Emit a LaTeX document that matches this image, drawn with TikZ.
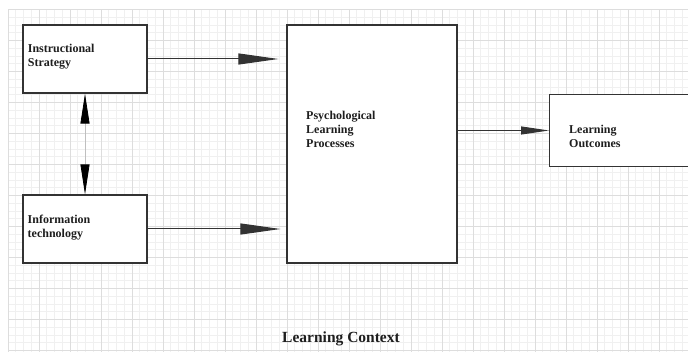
\documentclass[tikz,border=0pt]{standalone}
\usepackage{fontspec}
\setmainfont{Liberation Serif}
\usepackage{tikz}
\usetikzlibrary{arrows.meta, positioning, calc}
\definecolor{boxline}{HTML}{333333}
\definecolor{gridminor}{HTML}{F0F0F0}
\definecolor{gridmajor}{HTML}{DDDDDD}
\definecolor{textdark}{HTML}{1E1E1E}
\tikzset{blockbox/.style={draw=boxline, line width=1.2pt, fill=white, inner sep=0pt}}
\tikzset{blocktext/.style={anchor=north west, inner sep=0pt, align=left, text=textdark, font=\fontsize{12}{14}\selectfont\bfseries}}
\tikzset{flow/.style={line width=1pt, draw=boxline}}

\begin{document}
\begin{tikzpicture}[x=1pt,y=-1pt]

\useasboundingbox (0,0) rectangle (688,352);
\fill[white] (0,0) rectangle (688,352);

% Background grid
\foreach \i in {0,...,88} {
  \draw[gridminor, line width=0.8pt] (8+7.75*\i,9.5) -- (8+7.75*\i,352);
}
\foreach \j in {0,...,44} {
  \draw[gridminor, line width=0.8pt] (8,9.5+7.75*\j) -- (688,9.5+7.75*\j);
}
\foreach \i in {0,...,22} {
  \draw[gridmajor, line width=0.8pt] (8+31*\i,9.5) -- (8+31*\i,352);
}
\foreach \j in {0,...,11} {
  \draw[gridmajor, line width=0.8pt] (8,9.5+31*\j) -- (688,9.5+31*\j);
}

% The boxes
\node[blockbox, minimum width=124pt, minimum height=68pt] (strategy) at (85,59) {};
\node[blockbox, minimum width=124pt, minimum height=68pt] (tech) at (85,229) {};
\node[blockbox, minimum width=170pt, minimum height=238pt] (process) at (372,144) {};
\node[blockbox, minimum width=160pt, minimum height=72pt, anchor=west] (outcome) at (549,130.5) {};

% Box texts
\node[blocktext] (strategytxt) at (27.7,43.5) {Instructional\\Strategy};
\node[blocktext] (techtxt) at (27.5,215) {Information\\technology};
\node[blocktext] (processtxt) at (306,111) {Psychological\\Learning\\Processes};
\node[blocktext] (outcometxt) at (569,125) {Learning\\Outcomes};
\node[anchor=base, inner sep=0pt, text=textdark, font=\fontsize{15.5}{18}\selectfont\bfseries] (context) at (341,342.7) {Learning Context};

% Arrows
\draw[flow, -{Triangle[length=40pt, width=11pt]}, shorten >=8pt] (strategy.east) -- (strategy.east -| process.west);
\draw[flow, -{Triangle[length=40pt, width=11pt]}, shorten >=6pt] (tech.east) -- (tech.east -| process.west);
\draw[flow, -{Triangle[length=28pt, width=8pt]}] (process.east |- outcome.west) -- (outcome.west);
\draw[draw=black!25, line width=0.8pt, {Triangle[length=30pt, width=9pt, color=black]}-{Triangle[length=30pt, width=9pt, color=black]}] (strategy.south) -- (tech.north);

\end{tikzpicture}
\end{document}
